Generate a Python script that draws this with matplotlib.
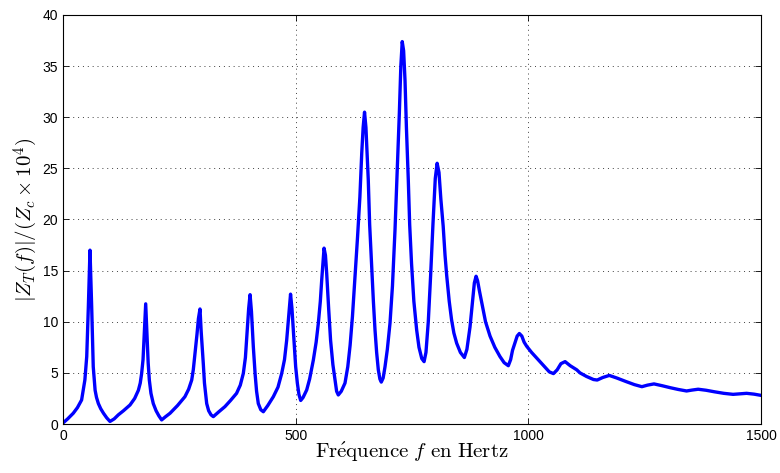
import matplotlib.pyplot as plt

# values (frequency in Hz, |Z_T|/(Zc*1e4))
freq = [0, 10, 22, 31, 40, 47, 51, 54.5, 58, 61.6, 65, 69, 72, 76, 81, 87, 94,
        101, 110, 119, 130, 144, 154, 162, 166, 169, 172, 174, 177.7, 181, 183,
        185.5, 189, 194, 200, 206, 212, 220, 230, 246, 262, 270, 276.6, 280,
        283.7, 288, 291, 294.4, 297, 301.5, 304, 308.8, 313, 318, 323, 335,
        348, 360, 373, 381, 387.5, 392, 396, 399, 402, 405, 409, 413, 416,
        419.7, 425, 430.5, 440, 452, 462, 470, 476, 480.7, 485, 489, 492,
        496.4, 500, 503.6, 507, 510.8, 516, 523.7, 530, 538, 544, 548.7, 553,
        556, 561, 564, 566.7, 571, 575, 580, 584.5, 588, 591.6, 598, 606, 612,
        617, 622, 627.5, 633, 638, 642, 645, 648, 651, 656, 659, 663, 667,
        670.5, 674, 677.6, 681, 684, 688, 692, 697, 702.7, 708, 713.5, 718,
        722.8, 726, 729, 732, 735, 738, 742, 745, 749, 754, 760, 765, 771, 776,
        780, 785, 790, 795, 800, 804, 808, 812, 817, 821, 824.6, 830, 835, 840,
        846, 854, 862.5, 868, 874.7, 880, 884, 887.7, 891, 895, 900, 908,
        917.7, 928, 939, 948, 957, 962, 966, 971, 976, 980.7, 986, 991, 996.5,
        1007, 1018, 1035, 1045, 1054, 1062, 1070, 1079, 1090, 1104, 1111,
        1125, 1140, 1148, 1160, 1174, 1190, 1210, 1228, 1244, 1256, 1270, 1287,
        1305, 1322, 1340, 1352, 1365, 1382, 1400, 1420, 1440, 1455, 1469, 1485,
        1500]
zt = [0.1, 0.5, 1.05, 1.6, 2.35, 4.3, 6.6, 11.5, 17.0, 11.5, 5.6, 3.3, 2.6,
      2.0, 1.5, 1.05, 0.6, 0.25, 0.5, 0.9, 1.3, 1.86, 2.5, 3.3, 4.0, 4.95,
      6.3, 8.2, 11.75, 8.2, 6.0, 4.3, 3.0, 2.0, 1.3, 0.8, 0.4, 0.7, 1.05, 1.8,
      2.67, 3.4, 4.3, 5.3, 6.9, 8.8, 10.3, 11.25, 9.0, 5.9, 4.0, 2.0, 1.3,
      0.9, 0.72, 1.2, 1.7, 2.3, 3.0, 3.8, 4.95, 6.5, 9.2, 11.3, 12.65, 11.0,
      7.56, 4.8, 3.2, 2.0, 1.4, 1.2, 1.8, 2.67, 3.6, 4.95, 6.3, 8.2, 10.5,
      12.7, 11.3, 8.2, 5.6, 4.0, 2.9, 2.3, 2.6, 3.33, 4.4, 6.26, 8.0, 9.85,
      12.0, 14.1, 17.2, 16.5, 14.7, 11.2, 8.2, 5.8, 4.3, 3.2, 2.84, 3.2, 4.0,
      5.6, 7.7, 10.5, 14.4, 18.3, 22.2, 26.5, 29.0, 30.5, 29.0, 23.9, 19.5,
      15.7, 12.0, 9.2, 7.0, 5.3, 4.4, 4.1, 4.5, 5.6, 7.3, 9.85, 13.5, 19.0,
      24.5, 30.4, 35.0, 37.4, 36.5, 33.6, 29.0, 23.9, 19.5, 15.7, 12.0, 9.2,
      7.5, 6.4, 6.1, 7.0, 10.0, 14.5, 19.5, 24.0, 25.5, 24.6, 22.0, 19.35,
      16.5, 14.5, 12.0, 10.2, 8.9, 7.9, 7.0, 6.5, 7.3, 9.5, 12.0, 13.8, 14.45,
      14.0, 13.0, 11.85, 10.0, 8.6, 7.5, 6.6, 6.0, 5.7, 6.3, 7.2, 7.9, 8.6,
      8.85, 8.6, 8.0, 7.6, 7.0, 6.45, 5.6, 5.1, 4.93, 5.3, 5.9, 6.1, 5.7, 5.3,
      5.0, 4.65, 4.35, 4.3, 4.55, 4.75, 4.5, 4.15, 3.85, 3.65, 3.8, 3.92,
      3.75, 3.55, 3.38, 3.23, 3.32, 3.4, 3.3, 3.15, 3.0, 2.9, 2.95, 3.0, 2.92,
      2.8]

xticks = [0, 500, 1000, 1500]
yticks = list(range(0, 41, 5))

plt.rcParams['font.family'] = ['Liberation Sans', 'DejaVu Sans']
plt.rcParams['mathtext.fontset'] = 'cm'

fig = plt.figure(figsize=(7.8, 4.73), dpi=100)
ax = fig.add_axes([63 / 780, 1 - 424 / 473, 698 / 780, 409 / 473])

ax.plot(freq, zt, color=(0, 0, 1), lw=2.4, solid_joinstyle='round')

ax.set_xlim(0, 1500)
ax.set_ylim(0, 40)
ax.set_xticks(xticks)
ax.set_yticks(yticks)
ax.tick_params(direction='in', top=True, right=True, labelsize=10, length=4,
               width=0.6)
ax.grid(True, color='0.25', linestyle=(0, (1, 4)), lw=0.7)
for s in ax.spines.values():
    s.set_linewidth(0.8)

ax.set_xlabel(r'$\mathrm{Fr\acute{e}quence}\ f\ \mathrm{en\ Hertz}$',
              fontsize=15, labelpad=-2)
ax.set_ylabel(r'$|Z_T(f)|/(Z_c\times10^4)$', fontsize=15, labelpad=2)

fig.savefig('out.png', dpi=100)
